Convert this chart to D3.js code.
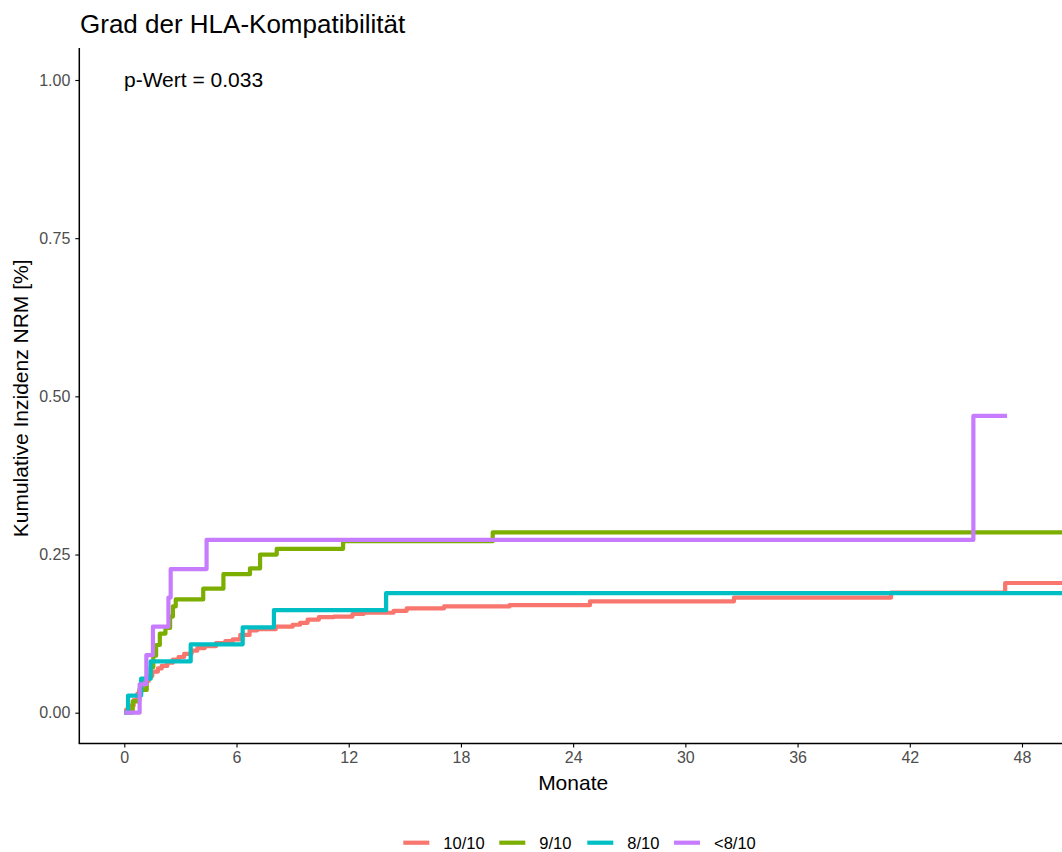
<!DOCTYPE html>
<html>
<head>
<meta charset="utf-8">
<script src="https://cdn.jsdelivr.net/npm/d3@7"></script>
<style>
  html, body { margin: 0; padding: 0; background: #fff; }
  svg { display: block; font-family: "Liberation Sans", Arial, sans-serif; }
</style>
</head>
<body>
<svg id="chart" width="1062" height="852"></svg>
<script>
// Cumulative incidence of NRM by degree of HLA match (step functions)
const groups = ["10/10", "9/10", "8/10", "<8/10"];
const colors = ["#F8766D", "#7CAE00", "#00BFC4", "#C77CFF"];

const t_1010 = [0, 0.1, 0.3, 0.5, 0.7, 0.9, 1.1, 1.3, 1.5, 1.8, 2.0, 2.3, 2.6, 2.9, 3.2, 3.6, 3.9, 4.3, 4.9, 5.4, 5.8, 6.2, 6.7, 7.1, 8.1, 9.0, 9.4, 9.8, 10.4, 11.2, 12.2, 12.8, 14.4, 15.1, 17.1, 20.6, 24.9, 32.6, 41.0, 47.1, 51];
const ci_1010 = [0, 0.005, 0.011, 0.02, 0.03, 0.041, 0.05, 0.058, 0.065, 0.07, 0.074, 0.079, 0.084, 0.088, 0.093, 0.098, 0.102, 0.105, 0.11, 0.113, 0.116, 0.123, 0.13, 0.132, 0.136, 0.139, 0.142, 0.147, 0.151, 0.152, 0.156, 0.158, 0.161, 0.165, 0.168, 0.170, 0.176, 0.182, 0.190, 0.205, 0.205];

const t_910 = [0, 0.45, 0.8, 1.2, 1.4, 1.55, 1.7, 1.9, 2.2, 2.45, 2.6, 2.75, 4.22, 5.3, 6.72, 7.26, 8.15, 11.7, 19.7, 51];
const ci_910 = [0, 0.018, 0.036, 0.054, 0.072, 0.09, 0.107, 0.125, 0.134, 0.152, 0.168, 0.179, 0.196, 0.219, 0.228, 0.25, 0.259, 0.271, 0.285, 0.285];

const t_810 = [0, 0.2, 0.9, 1.41, 3.55, 6.33, 8.0, 14.0, 51];
const ci_810 = [0, 0.027, 0.054, 0.081, 0.108, 0.135, 0.162, 0.189, 0.189];

const t_lt810 = [0, 0.82, 1.18, 1.53, 2.36, 2.48, 4.4, 45.4, 47.2];
const ci_lt810 = [0, 0.045, 0.091, 0.136, 0.182, 0.227, 0.273, 0.469, 0.469];

const xTicks = [0, 6, 12, 18, 24, 30, 36, 42, 48];
const yTicks = [0, 0.25, 0.5, 0.75, 1];

const series = [
  { name: groups[0], t: t_1010, ci: ci_1010, color: colors[0] },
  { name: groups[1], t: t_910, ci: ci_910, color: colors[1] },
  { name: groups[2], t: t_810, ci: ci_810, color: colors[2] },
  { name: groups[3], t: t_lt810, ci: ci_lt810, color: colors[3] }
];

const svg = d3.select("#chart");

// panel edges
const panelLeft = 79.3, panelBottom = 743.5, panelTop = 48, panelRight = 1070;

const x = d3.scaleLinear().domain([0, 48]).range([124.3, 1022]);
const y = d3.scaleLinear().domain([0, 1]).range([712.7, 80]);

svg.append("clipPath").attr("id", "panel")
  .append("rect")
  .attr("x", panelLeft).attr("y", panelTop)
  .attr("width", panelRight - panelLeft).attr("height", panelBottom - panelTop);

// step curves
const line = d3.line()
  .x(d => x(d[0]))
  .y(d => y(d[1]))
  .curve(d3.curveStepAfter);

svg.append("g").attr("clip-path", "url(#panel)")
  .selectAll("path")
  .data(series)
  .join("path")
  .attr("d", s => line(s.t.map((t, i) => [t, s.ci[i]])))
  .attr("fill", "none")
  .attr("stroke", s => s.color)
  .attr("stroke-width", 4.2)
  .attr("stroke-linejoin", "round")
  .attr("stroke-linecap", "butt");

// axes
const tickColor = "#4D4D4D";

const yAxis = svg.append("g")
  .attr("transform", `translate(${panelLeft},0)`)
  .call(d3.axisLeft(y).tickValues(yTicks).tickFormat(d3.format(".2f")).tickSize(4).tickPadding(5));
yAxis.select(".domain").remove();
yAxis.selectAll(".tick line").attr("stroke", "#000").attr("stroke-width", 1.1);
yAxis.selectAll(".tick text")
  .attr("fill", tickColor)
  .style("font-size", "16px")
  .style("font-family", "'Liberation Sans', Arial, sans-serif");

const xAxis = svg.append("g")
  .attr("transform", `translate(0,${panelBottom})`)
  .call(d3.axisBottom(x).tickValues(xTicks).tickFormat(d3.format("d")).tickSize(4).tickPadding(4));
xAxis.select(".domain").remove();
xAxis.selectAll(".tick line").attr("stroke", "#000").attr("stroke-width", 1.1);
xAxis.selectAll(".tick text")
  .attr("fill", tickColor)
  .style("font-size", "16px")
  .style("font-family", "'Liberation Sans', Arial, sans-serif");

svg.append("line")
  .attr("x1", panelLeft).attr("x2", panelLeft)
  .attr("y1", panelTop).attr("y2", panelBottom + 0.5)
  .attr("stroke", "#000").attr("stroke-width", 1.5);
svg.append("line")
  .attr("x1", panelLeft - 0.5).attr("x2", panelRight)
  .attr("y1", panelBottom).attr("y2", panelBottom)
  .attr("stroke", "#000").attr("stroke-width", 1.5);

// titles
svg.append("text")
  .attr("x", 80).attr("y", 33)
  .style("font-size", "26px")
  .attr("fill", "#000")
  .text("Grad der HLA-Kompatibilität");

svg.append("text")
  .attr("x", 124).attr("y", 87)
  .style("font-size", "21px")
  .attr("fill", "#000")
  .text("p-Wert = 0.033");

svg.append("text")
  .attr("x", (panelLeft + 1067) / 2).attr("y", 790)
  .attr("text-anchor", "middle")
  .style("font-size", "21px")
  .attr("fill", "#000")
  .text("Monate");

svg.append("text")
  .attr("transform", `translate(28,${y(0.5) + 2}) rotate(-90)`)
  .attr("text-anchor", "middle")
  .style("font-size", "21px")
  .attr("fill", "#000")
  .text("Kumulative Inzidenz NRM [%]");

// legend
const legendX = [403.3, 499.3, 587.3, 674];
const leg = svg.append("g").selectAll("g")
  .data(series)
  .join("g")
  .attr("transform", (d, i) => `translate(${legendX[i]},842.7)`);
leg.append("line")
  .attr("x1", 0).attr("x2", 26)
  .attr("stroke", d => d.color)
  .attr("stroke-width", 4.2);
leg.append("text")
  .attr("x", 40).attr("y", 6)
  .style("font-size", "16.5px")
  .attr("fill", "#000")
  .text(d => d.name);
</script>
</body>
</html>
